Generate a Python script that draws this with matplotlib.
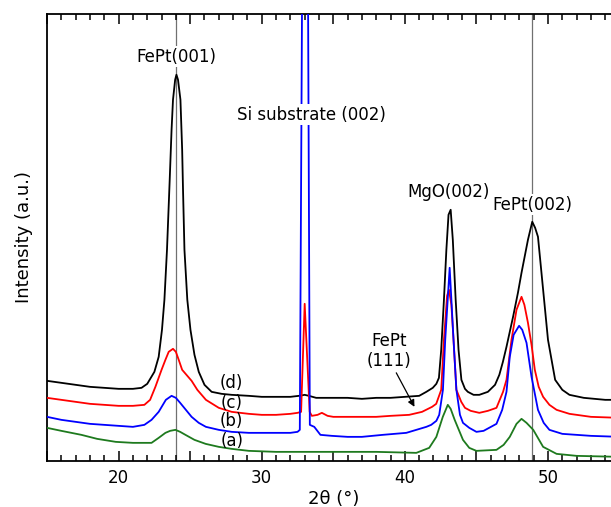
import matplotlib
matplotlib.use("Agg")
import matplotlib.pyplot as plt
from matplotlib.ticker import MultipleLocator, FuncFormatter

# XRD scans, 2theta (deg) vs intensity (arb. units)
x_a = [15, 16, 17.4, 18.5, 19.8, 21, 22.3, 22.8, 23.27, 23.6, 23.97, 24.3, 24.67,
       25.3, 26.08, 27, 27.9, 29.1, 31, 33, 35, 38, 40.8, 41.7, 42.2, 42.65, 43.0,
       43.2, 43.48, 44.06, 44.5, 45.0, 46.4, 46.9, 47.33, 47.8, 48.15, 48.5, 48.97,
       49.66, 50.6, 52, 55]
y_a = [33, 30, 26, 22, 19, 18, 18, 23, 28, 30, 31, 29, 26,
       21, 17, 14, 12, 10, 9, 9, 9, 9, 8, 13, 24, 44, 56,
       52, 41, 21, 13, 10, 11, 16, 24, 37, 42, 38, 31,
       14, 7, 5, 4]

x_b = [15, 16, 17, 18, 19, 20, 21, 21.8, 22.3, 22.8, 23.3, 23.7, 24.0, 24.3, 24.7,
       25.1, 25.6, 26.1, 27.0, 27.9, 29.1, 30, 31, 32, 32.5, 32.66, 33.05, 33.36,
       33.67, 34.1, 34.9, 36, 37, 38.45, 40.1, 40.8, 41.5, 41.84, 42.2, 42.4, 42.66,
       42.82, 43.13, 43.4, 43.6, 43.85, 44.06, 44.5, 45.0, 45.5, 46.4, 46.8, 47.1,
       47.33, 47.6, 47.98, 48.2, 48.5, 48.85, 49.3, 49.7, 50.1, 51, 53, 55]
y_b = [44, 41, 39, 37, 36, 35, 34, 36, 41, 49, 61, 65, 63, 58, 51,
       44, 38, 34, 31, 29, 28, 28, 28, 28, 29, 31, 1100, 36,
       34, 26, 25, 24, 24, 26, 28, 31, 34, 36, 40, 46, 71,
       121, 193, 121, 71, 46, 38, 33, 29, 30, 37, 51, 69,
       104, 126, 135, 131, 118, 84, 51, 38, 31, 27, 25, 24]

x_c = [15, 16, 17, 18, 19, 20, 21, 21.8, 22.2, 22.57, 23.0, 23.27, 23.5, 23.8, 24.0,
       24.2, 24.44, 24.8, 25.1, 25.5, 26.1, 27.0, 27.9, 29.1, 30, 31, 32, 32.5,
       32.75, 33.0, 33.35, 33.5, 33.9, 34.2, 34.6, 35, 36, 37, 38, 39, 40.3, 41.2,
       41.9, 42.19, 42.54, 42.73, 42.95, 43.08, 43.25, 43.4, 43.6, 43.94, 44.2, 44.6,
       45.2, 45.8, 46.4, 46.86, 47.1, 47.45, 47.8, 48.15, 48.35, 48.6, 48.85, 49.08,
       49.35, 49.66, 50.1, 50.6, 51.5, 53, 55]
y_c = [63, 61, 59, 57, 56, 55, 55, 56, 61, 74, 91, 101, 109, 112, 109,
       101, 91, 85, 80, 71, 61, 53, 49, 47, 46, 46, 47, 48,
       49, 157, 49, 45, 46, 48, 45, 44, 44, 44, 44, 45, 46, 49,
       54, 57, 71, 121, 165, 171, 156, 121, 71, 59, 53, 50,
       48, 50, 53, 69, 81, 121, 151, 164, 156, 138, 116, 91,
       74, 64, 56, 51, 47, 44, 43]

x_d = [15, 16, 17, 18, 19, 20, 21, 21.6, 22.0, 22.5, 22.8, 23.03, 23.2, 23.38, 23.57,
       23.7, 23.8, 23.95, 24.04, 24.15, 24.32, 24.44, 24.5, 24.6, 24.8, 25.02, 25.3,
       25.6, 26.0, 26.5, 27.2, 27.9, 29.1, 30, 31, 32, 32.6, 33.0, 33.3, 33.8, 35,
       36, 37, 38, 39, 40, 41, 41.5, 41.95, 42.2, 42.38, 42.54, 42.73, 42.9, 43.05,
       43.2, 43.35, 43.55, 43.75, 43.95, 44.2, 44.4, 44.8, 45.2, 45.8, 46.3, 46.6,
       46.85, 47.1, 47.56, 47.9, 48.15, 48.6, 48.9, 49.1, 49.3, 49.66, 50.0, 50.5,
       51.0, 51.5, 52.5, 54, 55]
y_d = [80, 78, 76, 74, 73, 72, 72, 73, 77, 89, 104, 131, 161, 211, 281,
       331, 361, 381, 386, 381, 361, 311, 271, 211, 161, 131, 106,
       89, 76, 69, 67, 66, 65, 64, 64, 64, 65, 66, 65, 63, 63,
       63, 62, 63, 63, 64, 65, 69, 73, 77, 83, 111, 161, 211, 246,
       251, 221, 161, 111, 81, 72, 69, 66, 66, 69, 76, 86,
       99, 114, 144, 168, 188, 221, 239, 233, 224, 171, 121, 81,
       71, 66, 63, 61, 61]

ref_lines = [24.0, 48.9]

fig = plt.figure(figsize=(6.11, 5.07), dpi=100)
ax = fig.add_axes([0.077, 0.091, 0.937, 0.882])

for xv in ref_lines:
    ax.axvline(xv, color="#707070", lw=0.9, zorder=1)

ax.plot(x_d, y_d, color="black", lw=1.3, zorder=3)
ax.plot(x_c, y_c, color="#ff0000", lw=1.3, zorder=3)
ax.plot(x_b, y_b, color="#0000ff", lw=1.3, zorder=3)
ax.plot(x_a, y_a, color="#1e7a1e", lw=1.3, zorder=3)

bg = dict(facecolor="white", edgecolor="none", pad=1)
ax.text(24.06, 404, "FePt(001)", ha="center", va="center", fontsize=12, bbox=bg, zorder=4)
ax.text(33.5, 346, "Si substrate (002)", ha="center", va="center", fontsize=12, bbox=bg, zorder=4)
ax.text(43.06, 269, "MgO(002)", ha="center", va="center", fontsize=12, bbox=bg, zorder=4)
ax.text(48.94, 256, "FePt(002)", ha="center", va="center", fontsize=12, bbox=bg, zorder=4)
ax.text(38.9, 110, "FePt\n(111)", ha="center", va="center", fontsize=12, linespacing=1.15, zorder=4)
ax.annotate("", xy=(40.67, 54), xytext=(39.4, 88),
            arrowprops=dict(arrowstyle="-|>", color="black", lw=0.9,
                            mutation_scale=10, shrinkA=0, shrinkB=0))

for lab, yv in zip(["(d)", "(c)", "(b)", "(a)"], [78, 58, 40, 20]):
    ax.text(27.9, yv, lab, ha="center", va="center", fontsize=12, zorder=4)

ax.set_xlim(15, 55)
ax.set_ylim(0, 447)
ax.xaxis.set_major_locator(MultipleLocator(5))
ax.xaxis.set_minor_locator(MultipleLocator(1))
ax.xaxis.set_major_formatter(FuncFormatter(lambda v, p: f"{v:.0f}" if v % 10 == 0 else ""))
ax.tick_params(axis="x", which="major", direction="in", top=True, length=7, width=1.1, labelsize=12, pad=6)
ax.tick_params(axis="x", which="minor", direction="in", top=True, length=4, width=1.1)
ax.set_yticks([])
for s in ax.spines.values():
    s.set_linewidth(1.3)

ax.set_xlabel("2θ (°)", fontsize=13, labelpad=2)
ax.set_ylabel("Intensity (a.u.)", fontsize=13, labelpad=10)

fig.savefig("out.png", dpi=100)
